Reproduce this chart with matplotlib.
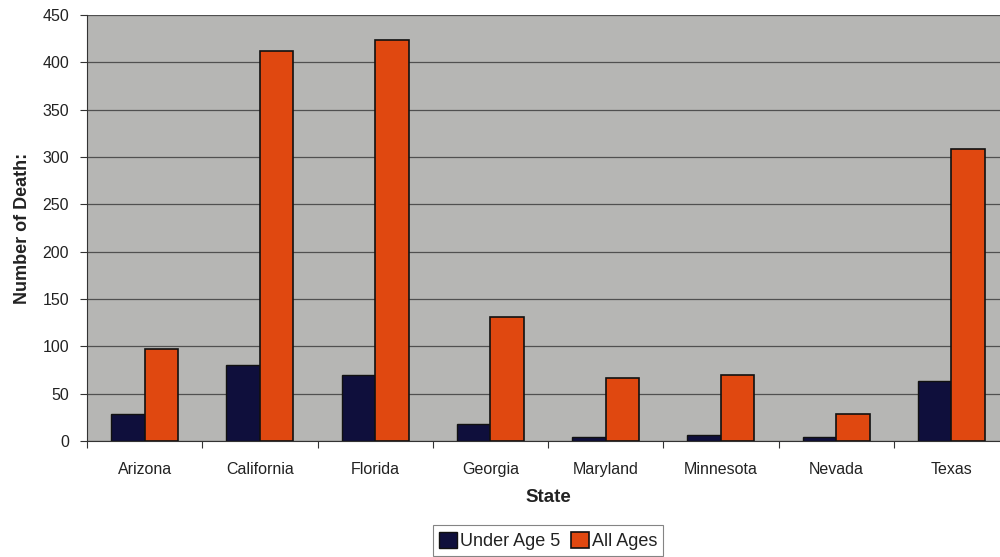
import matplotlib
matplotlib.use("Agg")
import matplotlib.pyplot as plt
import numpy as np

plt.rcParams['font.family'] = ['Liberation Sans', 'DejaVu Sans']

states = ["Arizona", "California", "Florida", "Georgia", "Maryland",
          "Minnesota", "Nevada", "Texas"]
under_age_5 = [28, 80, 70, 18, 4, 6, 4, 63]
all_ages = [97, 412, 424, 131, 66, 70, 29, 308]
y_ticks = [0, 50, 100, 150, 200, 250, 300, 350, 400, 450]

navy = "#0f0f3c"
orange = "#e04810"
plot_bg = "#b6b6b4"
grid_col = "#505050"

fig = plt.figure(figsize=(10, 5.57), dpi=100)
ax = fig.add_axes([0.087, 0.2083, 0.922, 0.7648])
ax.set_facecolor(plot_bg)

x = np.arange(len(states))
w = 0.29
ax.bar(x - w / 2, under_age_5, width=w, color=navy, edgecolor="#111111",
       linewidth=1.0, label="Under Age 5", zorder=3)
ax.bar(x + w / 2, all_ages, width=w, color=orange, edgecolor="#111111",
       linewidth=1.2, label="All Ages", zorder=3)

ax.set_xlim(-0.5, len(states) - 0.5)
ax.set_ylim(0, 450)
ax.set_yticks(y_ticks)
ax.set_yticklabels([str(v) for v in y_ticks], fontsize=11.5, color="#222222")
ax.yaxis.grid(True, color=grid_col, linewidth=0.9, zorder=1)
ax.tick_params(axis="y", length=5, width=0.8, color="#333333", pad=8)

# category labels centred, tick marks at the category boundaries
ax.set_xticks(x)
ax.set_xticklabels(states, fontsize=11.5, color="#222222")
ax.tick_params(axis="x", which="major", length=0, pad=15)
ax.set_xticks(np.arange(len(states) + 1) - 0.5, minor=True)
ax.tick_params(axis="x", which="minor", length=5, width=0.8, color="#333333")

for side in ("top", "right"):
    ax.spines[side].set_visible(False)
ax.spines["left"].set_color("#333333")
ax.spines["bottom"].set_color("#333333")

ax.set_ylabel("Number of Death:", fontsize=13, fontweight="bold",
              color="#222222", labelpad=8)
ax.set_xlabel("State", fontsize=13.5, fontweight="bold", color="#222222",
              labelpad=9)

leg = fig.legend(loc="center", bbox_to_anchor=(0.548, 0.029), ncol=2,
                 fontsize=13, frameon=True, fancybox=False,
                 edgecolor="#666666", handlelength=1.0, handleheight=1.0,
                 handletextpad=0.15, columnspacing=0.6, borderpad=0.35)
leg.get_frame().set_linewidth(0.8)
for t in leg.get_texts():
    t.set_color("#222222")

fig.savefig("out.png", dpi=100, facecolor="white")
